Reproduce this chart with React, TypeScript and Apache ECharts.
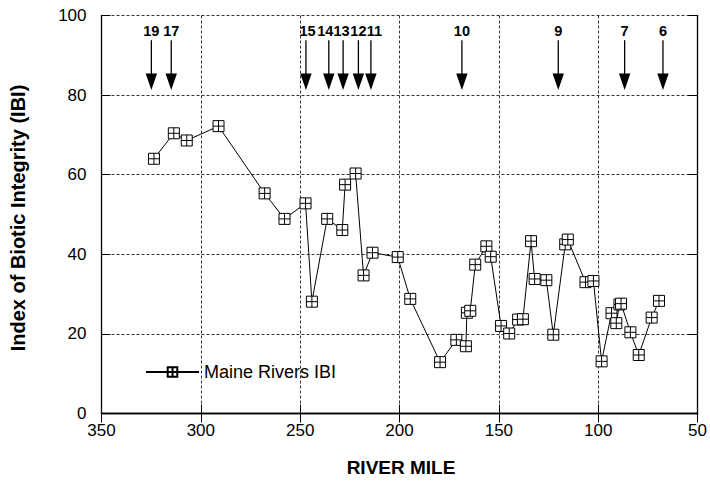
import React, { useEffect, useRef } from "react";
import * as echarts from "echarts";

// River mile of each sampling site
const riverMiles = [
  323.6, 313.6, 307.1, 291.1, 267.9, 257.9, 247.3, 244.1, 236.4, 228.8, 227.4,
  222.1, 218.1, 213.6, 200.9, 194.6, 179.6, 171.4, 166.6, 166.1, 164.4, 161.9,
  156.3, 154.1, 148.9, 144.8, 140.3, 137.9, 133.8, 132.0, 126.1, 122.6, 116.6,
  115.3, 106.4, 102.4, 98.3, 93.3, 90.9, 89.3, 88.5, 83.8, 79.6, 73.1, 69.4,
];
// Index of Biotic Integrity values
const ibiValues = [
  64.0, 70.4, 68.6, 72.2, 55.3, 48.9, 52.8, 28.1, 48.9, 46.1, 57.5, 60.3, 34.7,
  40.4, 39.3, 28.8, 12.9, 18.5, 16.9, 25.3, 25.8, 37.4, 42.0, 39.4, 22.0, 20.1,
  23.6, 23.7, 43.3, 33.8, 33.5, 19.8, 42.5, 43.7, 33.0, 33.3, 13.1, 25.2, 22.7,
  27.4, 27.6, 20.4, 14.7, 24.1, 28.3,
];
// Marker arrows (station numbers) along the top
const arrowLabels = ["19", "17", "15", "14", "13", "12", "11", "10", "9", "7", "6"];
const arrowMiles = [324.9, 314.9, 247.1, 235.6, 228.4, 220.7, 214.4, 168.6, 120.1, 86.7, 67.4];
const arrowTop = 93.8;
const arrowTip = 81.3;
const arrowLabelY = 96.0;

const seriesName = "Maine Rivers IBI";
const xTitle = "RIVER MILE";
const yTitle = "Index of Biotic Integrity (IBI)";

const FONT = "'Liberation Sans', Arial, Helvetica, sans-serif";
// small pixel nudges so crowded station numbers sit side by side (styling only)
const labelNudge = [0, 0, 1.5, -3.5, -1.5, 0, 3.5, 0, 0, 0, 0];

export default function App() {
  const ref = useRef<HTMLDivElement>(null);

  useEffect(() => {
    if (!ref.current) return;
    const chart = echarts.init(ref.current, null, { renderer: "svg" });

    const points = riverMiles.map((m, i) => [m, ibiValues[i]]);
    const arrows = arrowMiles.map((m, i) => [m, arrowTip, arrowLabels[i]]);

    const grid = { left: 101.5, right: 10, top: 15.5, bottom: 68.5 };
    const axisLineStyle = { color: "#000", width: 1.3 };

    const option: any = {
      animation: false,
      backgroundColor: "#fff",
      grid,
      legend: {
        left: 140,
        top: 358,
        itemWidth: 53,
        itemHeight: 12,
        itemGap: 10,
        textStyle: { fontFamily: FONT, fontSize: 18, color: "#000" },
        data: [seriesName],
      },
      xAxis: [
        {
          type: "value",
          min: 50,
          max: 350,
          interval: 50,
          inverse: true,
          axisLine: { show: true, lineStyle: axisLineStyle },
          axisTick: { show: true, inside: true, length: 9, lineStyle: { color: "#000" } },
          axisLabel: { fontFamily: FONT, fontSize: 17, color: "#000", margin: 8 },
          splitLine: { show: true, lineStyle: { color: "#333", type: [3, 2], width: 1 } },
        },
        {
          type: "value",
          position: "top",
          min: 50,
          max: 350,
          interval: 50,
          inverse: true,
          axisLine: { show: true, lineStyle: axisLineStyle },
          axisTick: { show: true, inside: true, length: 9, lineStyle: { color: "#000" } },
          axisLabel: { show: false },
          splitLine: { show: false },
        },
      ],
      yAxis: [
        {
          type: "value",
          min: 0,
          max: 100,
          interval: 20,
          axisLine: { show: true, lineStyle: axisLineStyle },
          axisTick: { show: true, inside: true, length: 9, lineStyle: { color: "#000" } },
          axisLabel: { fontFamily: FONT, fontSize: 17, color: "#000", margin: 15 },
          splitLine: { show: true, lineStyle: { color: "#333", type: [3, 2], width: 1 } },
        },
        {
          type: "value",
          position: "right",
          min: 0,
          max: 100,
          interval: 20,
          axisLine: { show: true, lineStyle: axisLineStyle },
          axisTick: { show: true, inside: true, length: 9, lineStyle: { color: "#000" } },
          axisLabel: { show: false },
          splitLine: { show: false },
        },
      ],
      graphic: [
        {
          type: "text",
          x: 18,
          y: 218,
          rotation: Math.PI / 2,
          style: {
            text: yTitle,
            font: `bold 20px ${FONT}`,
            fill: "#000",
            textAlign: "center",
            textVerticalAlign: "middle",
          },
        },
        {
          type: "text",
          x: 401,
          y: 467,
          style: {
            text: xTitle,
            font: `bold 19px ${FONT}`,
            fill: "#000",
            textAlign: "center",
            textVerticalAlign: "middle",
          },
        },
      ],
      series: [
        {
          name: seriesName,
          type: "line",
          xAxisIndex: 0,
          yAxisIndex: 0,
          data: points,
          symbol: "path://M0,0H10V10H0Z M5,0V10 M0,5H10",
          symbolSize: 11,
          showAllSymbol: true,
          itemStyle: { color: "#fff", borderColor: "#000", borderWidth: 1 },
          lineStyle: { color: "#000", width: 1 },
          z: 5,
        },
        {
          name: "arrows",
          type: "custom",
          xAxisIndex: 0,
          yAxisIndex: 0,
          data: arrows,
          silent: true,
          z: 6,
          renderItem: (params: any, api: any) => {
            const mile = api.value(0);
            const label = arrowLabels[params.dataIndex];
            const tip = api.coord([mile, api.value(1)]);
            const top = api.coord([mile, arrowTop]);
            const lab = api.coord([mile, arrowLabelY]);
            const headH = 16.5;
            const headW = 11.4;
            return {
              type: "group",
              children: [
                {
                  type: "line",
                  shape: { x1: tip[0], y1: top[1], x2: tip[0], y2: tip[1] - headH + 1 },
                  style: { stroke: "#000", lineWidth: 1.3 },
                },
                {
                  type: "polygon",
                  shape: {
                    points: [
                      [tip[0] - headW / 2, tip[1] - headH],
                      [tip[0] + headW / 2, tip[1] - headH],
                      [tip[0], tip[1]],
                    ],
                  },
                  style: { fill: "#000" },
                },
                {
                  type: "text",
                  x: lab[0] + labelNudge[params.dataIndex],
                  y: lab[1],
                  style: {
                    text: label,
                    font: `bold 14.5px ${FONT}`,
                    fill: "#000",
                    textAlign: "center",
                    textVerticalAlign: "middle",
                  },
                },
              ],
            };
          },
        },
      ],
    };

    chart.setOption(option);
    return () => chart.dispose();
  }, []);

  return (
    <div
      ref={ref}
      style={{ position: "fixed", left: 0, top: 0, width: 710, height: 482, background: "#fff" }}
    />
  );
}
